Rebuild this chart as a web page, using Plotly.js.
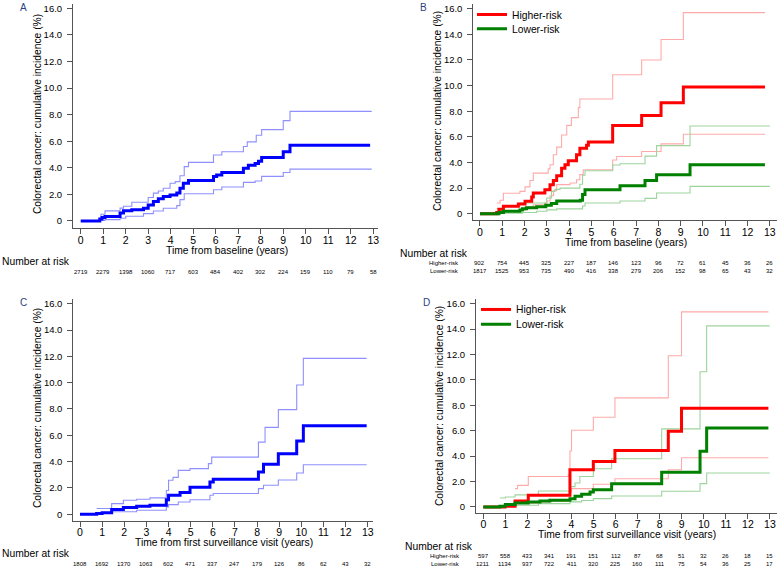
<!DOCTYPE html>
<html>
<head>
<meta charset="utf-8">
<script src="https://cdn.plot.ly/plotly-3.0.1.min.js"></script>
<style>html,body{margin:0;padding:0;background:#fff}#chart{width:778px;height:568px}</style>
</head>
<body>
<div id="chart"></div>
<script>
// ---------- Data ----------
const years = [0,1,2,3,4,5,6,7,8,9,10,11,12,13];
const yTickVals = [0,2,4,6,8,10,12,14,16];
const yTickText = ["0","2.0","4.0","6.0","8.0","10.0","12.0","14.0","16.0"];

// Panel A: overall, time from baseline
const aT  = [0,0.79,0.85,0.95,1.08,1.75,1.9,2.27,2.79,3.0,3.23,3.45,3.67,3.97,4.27,4.41,4.56,4.79,5.9,6.04,6.27,7.23,7.45,7.75,7.9,8.04,9.0,9.3,12.86];
const aY  = [0,0,0.15,0.25,0.34,0.59,0.76,0.84,0.96,1.2,1.46,1.66,1.84,1.96,2.1,2.46,2.84,3.04,3.34,3.46,3.64,3.96,4.2,4.33,4.5,4.78,5.2,5.7,5.7];
const aUT = [0.79,0.9,1.08,1.75,1.9,2.27,3.0,3.23,3.45,3.67,3.97,4.2,4.41,4.6,4.79,5.9,6.27,7.23,7.4,7.8,8.04,9.0,9.3,12.93];
const aUY = [0.16,0.5,0.76,0.96,1.1,1.41,1.76,2.09,2.25,2.46,2.84,2.96,3.4,4.09,4.41,4.96,5.21,5.6,5.95,6.45,6.87,7.55,8.25,8.25];
const aLT = [0.79,1.08,1.75,2.0,2.79,3.23,3.67,4.27,4.41,4.6,5.9,6.27,7.23,7.75,8.04,9.0,9.3,12.93];
const aLY = [0.03,0.1,0.2,0.35,0.55,0.75,0.95,1.15,1.6,2.05,2.35,2.55,2.9,3.0,3.35,3.65,3.9,3.9];
const aRisk = [2719,2279,1398,1060,717,603,484,402,302,224,159,110,79,58];

// Panel B: by risk group, time from baseline
const bHT  = [0,0.75,0.85,1.05,1.72,2.02,2.32,2.39,2.91,3.14,3.29,3.44,3.66,3.81,3.96,4.33,4.48,4.78,4.86,5.95,7.25,8.12,9.12,12.78];
const bHY  = [0,0.1,0.35,0.58,0.76,0.97,1.3,1.61,1.88,2.27,2.6,2.97,3.56,3.82,4.13,4.6,5.12,5.35,5.59,6.88,7.66,8.67,9.9,9.9];
const bHUT = [0.75,0.9,1.05,1.79,2.02,2.24,2.39,3.06,3.14,3.29,3.44,3.66,3.89,4.1,4.41,4.48,5.95,7.25,8.12,9.12,12.78];
const bHUY = [0.84,1.05,1.6,1.75,2.1,2.6,3.17,3.5,3.82,4.6,5.2,6.15,6.9,7.5,8.28,8.95,10.85,12.0,13.6,15.7,15.7];
const bHLT = [1.9,2.02,2.39,2.91,3.0,3.14,3.3,3.44,4.04,4.33,4.48,4.63,5.95,6.13,7.25,8.12,9.12,12.78];
const bHLY = [0.25,0.55,0.7,0.84,1.0,1.4,1.8,2.27,2.4,2.65,3.05,3.43,4.2,4.47,4.86,5.45,6.2,6.2];
const bLT  = [0,0.75,0.85,1.05,1.79,1.9,2.09,2.54,2.95,3.2,3.44,4.5,4.6,4.71,6.28,7.4,7.92,9.42,12.78];
const bLY  = [0,0,0.1,0.19,0.3,0.4,0.47,0.55,0.66,0.8,0.99,1.05,1.5,1.88,2.19,2.6,3.05,3.83,3.83];
const bLUT = [0.75,1.05,1.79,2.99,3.21,3.36,3.59,4.48,4.6,4.71,5.95,6.28,7.4,7.92,9.42,13.0];
const bLUY = [0.4,0.58,0.84,1.23,1.75,1.9,2.0,2.3,3.0,3.36,3.8,3.9,4.5,5.32,6.85,6.85];
const bLLT = [0.75,1.05,1.9,2.54,3.0,3.44,4.6,4.71,6.28,7.4,7.92,9.42,13.0];
const bLLY = [0.02,0.05,0.1,0.2,0.3,0.38,0.6,0.84,1.0,1.2,1.62,2.14,2.14];
const bHighRisk = [902,754,445,325,227,187,146,123,96,72,61,45,36,26];
const bLowRisk  = [1817,1525,953,735,490,416,338,279,206,152,98,65,43,32];

// Panel C: overall, time from first surveillance visit
const cT  = [0,0.75,1.0,1.43,1.96,2.56,3.16,3.9,4.0,4.52,4.97,5.87,6.02,8.06,8.29,8.96,9.79,10.09,12.95];
const cY  = [0,0.05,0.1,0.35,0.5,0.6,0.68,1.1,1.44,1.64,2.05,2.45,2.65,3.2,3.8,4.6,5.56,6.72,6.72];
const cUT = [0.75,1.43,1.96,2.56,3.16,3.9,4.0,4.2,4.44,4.97,5.8,5.95,8.06,8.36,8.96,9.79,10.09,12.95];
const cUY = [0.43,0.8,1.06,1.14,1.24,1.8,2.58,2.8,3.33,3.46,3.84,4.34,5.48,6.6,7.95,9.82,11.84,11.84];
const cLT = [0.75,1.43,2.56,3.9,4.0,4.44,4.97,5.87,6.02,8.06,8.29,8.96,9.79,10.09,12.95];
const cLY = [0.05,0.18,0.3,0.55,0.73,0.93,1.1,1.44,1.57,1.94,2.2,2.6,3.13,3.76,3.76];
const cRisk = [1808,1692,1370,1063,602,471,337,247,179,126,86,62,43,32];

// Panel D: by risk group, time from first surveillance visit
const dHT  = [0,0.98,1.44,2.04,3.93,4.99,5.97,8.39,8.99,12.93];
const dHY  = [0,0.05,0.47,0.92,2.93,3.58,4.44,5.96,7.76,7.76];
const dHUT = [1.44,1.55,2.04,3.85,3.93,4.0,4.99,5.97,8.39,8.99,12.93];
const dHUY = [1.44,1.7,2.4,2.5,4.4,6.03,7.06,8.58,11.9,15.35,15.35];
const dHLT = [2.04,3.0,3.93,4.0,4.99,5.97,8.39,8.99,12.93];
const dHLY = [0.3,0.45,1.2,1.44,1.78,2.22,2.93,3.87,3.87];
const dLT  = [0,0.75,1.0,1.44,2.04,2.57,3.02,3.93,4.16,4.46,4.84,4.99,5.82,8.09,9.83,10.13,12.93];
const dLY  = [0,0.05,0.2,0.31,0.39,0.47,0.52,0.65,0.84,1.0,1.18,1.36,1.83,2.72,4.39,6.22,6.22];
const dLUT = [0.75,1.0,1.44,2.5,3.93,4.16,4.38,4.99,5.82,8.09,9.83,10.13,12.99];
const dLUY = [0.7,0.78,0.95,1.25,1.6,1.88,2.4,3.0,3.79,6.14,10.64,14.25,14.25];
const dLLT = [0.75,1.5,2.5,3.93,4.46,4.99,5.82,8.09,9.83,10.13,12.99];
const dLLY = [0.05,0.13,0.26,0.4,0.5,0.65,0.86,1.23,1.83,2.67,2.67];
const dHighRisk = [597,558,433,341,191,151,112,87,68,51,32,26,18,15];
const dLowRisk  = [1211,1134,937,722,411,320,225,160,111,75,54,36,25,17];

const yTitle = "Colorectal cancer: cumulative incidence (%)";
const xTitleBase = "Time from baseline (years)";
const xTitleSurv = "Time from first surveillance visit (years)";
const groupNames = ["Higher-risk","Lower-risk"];
const panelLetters = ["A","B","C","D"];

// ---------- Styling ----------
const W = 778, H = 568;
const FONT = "Liberation Sans, Arial, sans-serif";
const BLUE = "#0000ff", BLUE_L = "#8f8fff";
const RED = "#ff0000", RED_L = "#ffaaaa";
const GREEN = "#008000", GREEN_L = "#9dd49d";
const px = v => v / W;
const py = v => 1 - v / H;

function step(x, y, color, width, xa, ya, name, legend) {
  return {
    x: x, y: y, type: "scatter", mode: "lines",
    line: {shape: "hv", color: color, width: width},
    xaxis: xa, yaxis: ya, hoverinfo: "skip",
    name: name || "", showlegend: !!legend, legend: legend || "legend"
  };
}

const traces = [
  // A
  step(aUT, aUY, BLUE_L, 1.1, "x", "y"),
  step(aLT, aLY, BLUE_L, 1.1, "x", "y"),
  step(aT, aY, BLUE, 3, "x", "y"),
  // B
  step(bHUT, bHUY, RED_L, 1.1, "x2", "y2"),
  step(bHLT, bHLY, RED_L, 1.1, "x2", "y2"),
  step(bLUT, bLUY, GREEN_L, 1.1, "x2", "y2"),
  step(bLLT, bLLY, GREEN_L, 1.1, "x2", "y2"),
  step(bHT, bHY, RED, 3, "x2", "y2", groupNames[0], "legend"),
  step(bLT, bLY, GREEN, 3, "x2", "y2", groupNames[1], "legend2"),
  // C
  step(cUT, cUY, BLUE_L, 1.1, "x3", "y3"),
  step(cLT, cLY, BLUE_L, 1.1, "x3", "y3"),
  step(cT, cY, BLUE, 3, "x3", "y3"),
  // D
  step(dHUT, dHUY, RED_L, 1.1, "x4", "y4"),
  step(dHLT, dHLY, RED_L, 1.1, "x4", "y4"),
  step(dLUT, dLUY, GREEN_L, 1.1, "x4", "y4"),
  step(dLLT, dLLY, GREEN_L, 1.1, "x4", "y4"),
  step(dHT, dHY, RED, 3, "x4", "y4", groupNames[0], "legend3"),
  step(dLT, dLY, GREEN, 3, "x4", "y4", groupNames[1], "legend4")
];

function xax(d0, d1, r0, r1, anchor) {
  return {
    domain: [px(d0), px(d1)], range: [r0, r1], anchor: anchor,
    tickvals: years, ticktext: years.map(String),
    ticks: "outside", ticklen: 5, tickcolor: "#555", tickwidth: 1,
    ticklabelstandoff: -3,
    showline: true, linecolor: "#555", linewidth: 1,
    showgrid: false, zeroline: false, fixedrange: true,
    tickfont: {family: FONT, size: 10.5, color: "#000"}
  };
}
function yax(b, t, r0, r1, anchor) {
  return {
    domain: [py(b), py(t)], range: [r0, r1], anchor: anchor,
    tickvals: yTickVals, ticktext: yTickText,
    ticks: "outside", ticklen: 5, tickcolor: "#555", tickwidth: 1,
    ticklabelstandoff: 3,
    showline: true, linecolor: "#555", linewidth: 1,
    showgrid: false, zeroline: false, fixedrange: true,
    tickfont: {family: FONT, size: 9.5, color: "#000"}
  };
}

const ann = [];
function txt(x, y, text, opts) {
  ann.push(Object.assign({
    x: px(x), y: py(y), xref: "paper", yref: "paper", text: text, showarrow: false,
    xanchor: "center", yanchor: "middle",
    font: {family: FONT, size: 10.3, color: "#000"}
  }, opts || {}));
}
// panel letters
const letterPos = [[23.3,6],[423,6],[23.3,302],[426,302]];
panelLetters.forEach((L,i) => txt(letterPos[i][0], letterPos[i][1], L, {font:{family:FONT,size:10,color:"#2b3f80"}}));
// y titles
[[37.5,113],[437.5,110],[37.5,408],[439.5,405]].forEach(p =>
  txt(p[0], p[1], yTitle, {textangle: -90}));
// x titles
txt(226.5, 249, xTitleBase);
txt(625.5, 241.5, xTitleBase);
txt(223.7, 542, xTitleSurv);
txt(627.3, 534, xTitleSurv);
// "Number at risk"
txt(0, 260, "Number at risk", {xanchor: "left"});
txt(398, 252.7, "Number at risk", {xanchor: "left"});
txt(0, 553.3, "Number at risk", {xanchor: "left"});
txt(403, 546.7, "Number at risk", {xanchor: "left"});
// row labels
const small = {family: FONT, size: 6, color: "#000"};
txt(461, 262.3, groupNames[0], {xanchor: "right", font: small});
txt(461, 270.3, groupNames[1], {xanchor: "right", font: small});
txt(461.7, 556.3, groupNames[0], {xanchor: "right", font: small});
txt(461.7, 563.7, groupNames[1], {xanchor: "right", font: small});
// numbers at risk, placed at year ticks on each panel's x-axis
function riskRow(vals, xref, yPix) {
  vals.forEach((v, i) => ann.push({
    x: years[i], y: py(yPix), xref: xref, yref: "paper", text: String(v),
    showarrow: false, xanchor: "center", yanchor: "middle", font: small
  }));
}
riskRow(aRisk, "x", 270.7);
riskRow(bHighRisk, "x2", 262.3);
riskRow(bLowRisk, "x2", 270.3);
riskRow(cRisk, "x3", 563.7);
riskRow(dHighRisk, "x4", 556.3);
riskRow(dLowRisk, "x4", 563.7);

const legendStyle = {
  xanchor: "left", yanchor: "top", bgcolor: "rgba(0,0,0,0)",
  font: {family: FONT, size: 10.3, color: "#000"}, tracegroupgap: 0, itemwidth: 30
};
const mk = (x, y) => Object.assign({x: px(x), y: py(y)}, legendStyle);

const layout = {
  width: W, height: H, margin: {l: 0, r: 0, t: 0, b: 0},
  paper_bgcolor: "#fff", plot_bgcolor: "#fff",
  font: {family: FONT},
  xaxis:  xax(73, 378, -0.342, 13.21, "y"),
  yaxis:  yax(226.7, 2, -0.525, 16.33, "x"),
  xaxis2: xax(473.3, 777, -0.30, 13.32, "y2"),
  yaxis2: yax(219, 2, -0.505, 16.37, "x2"),
  xaxis3: xax(73.3, 373.3, -0.303, 13.25, "y3"),
  yaxis3: yax(520.7, 298, -0.508, 16.36, "x3"),
  xaxis4: xax(476, 777, -0.331, 13.32, "y4"),
  yaxis4: yax(512.7, 298, -0.47, 16.37, "x4"),
  legend:  mk(472, -2),
  legend2: mk(472, 12.3),
  legend3: mk(476, 294),
  legend4: mk(476, 308.8),
  annotations: ann
};

Plotly.newPlot("chart", traces, layout, {staticPlot: true, displayModeBar: false});
</script>
</body>
</html>
